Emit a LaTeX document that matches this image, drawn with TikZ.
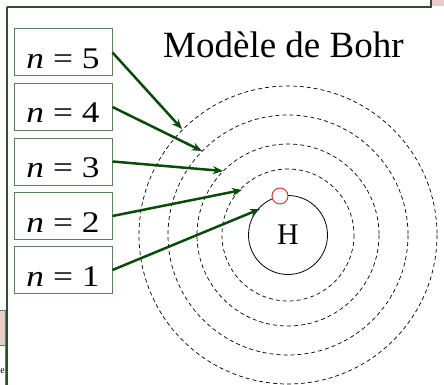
\documentclass[tikz,border=0pt]{standalone}
\usepackage{fontspec}
\setmainfont{Liberation Serif}
\usetikzlibrary{arrows.meta}
\definecolor{boxgreen}{HTML}{5A825A}
\definecolor{arrgreen}{HTML}{0A4A0A}
\definecolor{framegreen}{HTML}{2E4E2E}
\definecolor{pinkfill}{HTML}{E8CCC8}
\definecolor{ered}{HTML}{D42A2A}
\begin{document}
\begin{tikzpicture}[x=1pt,y=-1pt,
  nbox/.style={draw=boxgreen, line width=1pt, minimum width=98pt, minimum height=47pt,
    inner sep=0pt, text height=32pt, text depth=0pt, font=\fontsize{30}{32}\selectfont},
  orbit/.style={draw=black, line width=0.7pt, dash pattern=on 4pt off 3pt},
  pointer/.style={draw=arrgreen, line width=2.5pt, -{Stealth[length=10pt,width=8pt]}},
  framel/.style={draw=framegreen, line width=1.5pt}]
\useasboundingbox (0,0) rectangle (444,385);
% frame remnants
\fill[pinkfill] (431,-1) rectangle (445,6);
\draw[framel] (7,7) -- (431,7) -- (431,-1);
\draw[framel] (7,7) -- (7,386);
\draw[draw=boxgreen, fill=pinkfill, line width=1pt] (-2,310) rectangle (5.5,345);
\draw[draw=boxgreen, line width=1pt] (-2,345) rectangle (5.5,388);
\node[anchor=base west, inner sep=0pt, font=\fontsize{10}{11}\selectfont] (cut) at (0.3,373) {e};
% orbits
\coordinate (c) at (288,235);
\foreach \r in {66,91,120,149}{\draw[orbit] (c) circle[radius=\r];}
\node[circle, draw=black, line width=0.8pt, minimum size=79pt, inner sep=0pt,
  font=\fontsize{30}{32}\selectfont] (H) at (c) {H};
\node[circle, draw=ered, fill=white, line width=0.9pt, minimum size=16pt, inner sep=0pt] (el) at (280,196) {};
% title
\node[anchor=base west, inner sep=0pt, font=\fontsize{37}{40}\selectfont] (title) at (163,58) {Modèle de Bohr};
% boxes
\foreach \k/\y in {5/52.5,4/107,3/161.5,2/216,1/270}{
  \node[nbox] (b\k) at (63,\y) {\scalebox{1.18}[1]{\itshape n\upshape\ =\ \k}\hspace{8pt}};
}
% targets
\coordinate (t1) at (260,209);
\coordinate (t2) at (242,190);
\coordinate (t3) at (223,171);
\coordinate (t4) at (202,151);
\coordinate (t5) at (182,129);
\foreach \k in {1,...,5}{\draw[pointer] (b\k.east) -- (t\k);}
\end{tikzpicture}
\end{document}
